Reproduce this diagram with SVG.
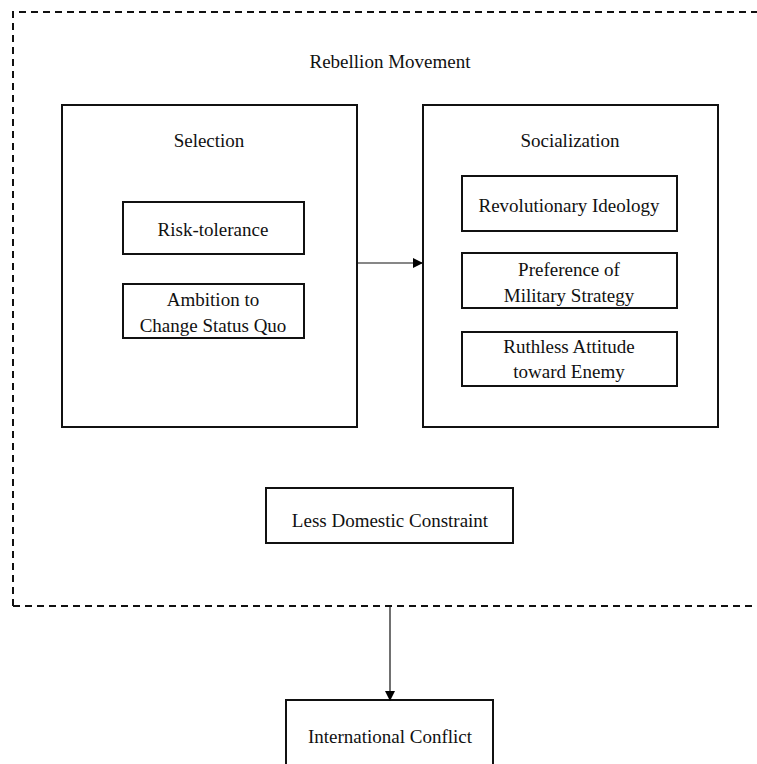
<svg xmlns="http://www.w3.org/2000/svg" width="757" height="764" viewBox="0 0 757 764">
<defs>
<marker id="arr" markerWidth="10" markerHeight="10" refX="9" refY="5" orient="auto" markerUnits="userSpaceOnUse">
<path d="M0,0 L10,5 L0,10 Z" fill="#000"/>
</marker>
<style>
text{font-family:"Liberation Serif","Times New Roman",serif;font-size:19px;fill:#111;text-anchor:middle}
.box{fill:#fff;stroke:#111;stroke-width:2}
.dash{fill:none;stroke:#111;stroke-width:2;stroke-dasharray:7 5}
.conn{stroke:#111;stroke-width:1.2;fill:none}
</style>
</defs>
<rect width="757" height="764" fill="#fff"/>
<g id="rebellion">
<path class="dash" d="M13,606 L13,12 L770,12 M13,606 L770,606"/>
<text x="390" y="68">Rebellion Movement</text>
</g>
<g id="selection">
<rect class="box" x="62" y="105" width="295" height="322"/>
<text x="209" y="147">Selection</text>
</g>
<g id="risk">
<rect class="box" x="123" y="202" width="181" height="52"/>
<text x="213" y="236">Risk-tolerance</text>
</g>
<g id="ambition">
<rect class="box" x="123" y="284" width="181" height="54"/>
<text x="213" y="306">Ambition to</text>
<text x="213" y="332">Change Status Quo</text>
</g>
<g id="socialization">
<rect class="box" x="423" y="105" width="295" height="322"/>
<text x="570" y="147">Socialization</text>
</g>
<g id="ideology">
<rect class="box" x="462" y="176" width="215" height="55"/>
<text x="569" y="212">Revolutionary Ideology</text>
</g>
<g id="military">
<rect class="box" x="462" y="253" width="215" height="55"/>
<text x="569" y="276">Preference of</text>
<text x="569" y="302">Military Strategy</text>
</g>
<g id="ruthless">
<rect class="box" x="462" y="332" width="215" height="54"/>
<text x="569" y="353">Ruthless Attitude</text>
<text x="569" y="378">toward Enemy</text>
</g>
<g id="domestic">
<rect class="box" x="266" y="488" width="247" height="55"/>
<text x="390" y="527">Less Domestic Constraint</text>
</g>
<g id="international">
<rect class="box" x="286" y="700" width="207" height="80"/>
<text x="390" y="743">International Conflict</text>
</g>
<g id="connectors">
<line class="conn" x1="357" y1="263" x2="422" y2="263" marker-end="url(#arr)"/>
<line class="conn" x1="390" y1="606" x2="390" y2="700" marker-end="url(#arr)"/>
</g>
</svg>
